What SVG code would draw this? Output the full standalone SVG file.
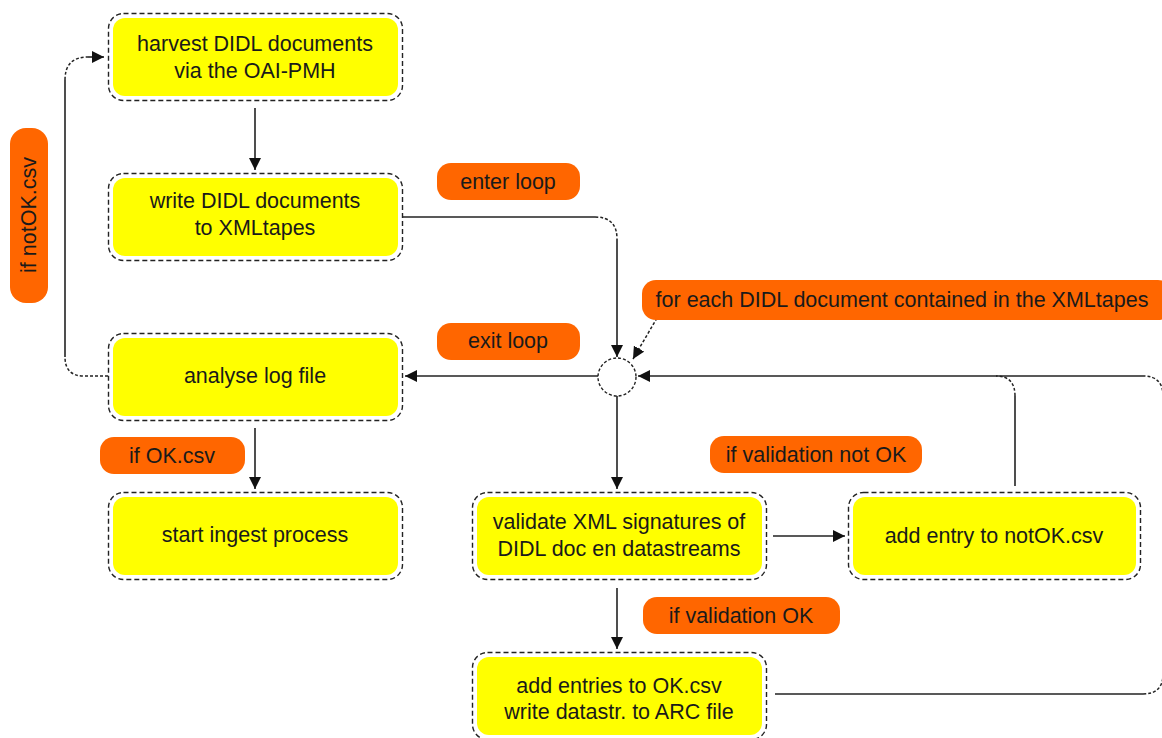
<svg xmlns="http://www.w3.org/2000/svg" width="1162" height="738" viewBox="0 0 1162 738">
<style>
.frame{fill:#fff;stroke:#222;stroke-width:1.4;stroke-dasharray:5 3}
.fill{fill:#FFFF00}
.pill{fill:#FF6600}
.t{font-family:"Liberation Sans",Arial,sans-serif;font-size:21.5px;fill:#1a1a1a;text-anchor:middle}
.ln{fill:none;stroke:#222;stroke-width:1.6}
.dl{fill:none;stroke:#222;stroke-width:1.5;stroke-dasharray:3 2}
</style>
<defs>
<marker id="ah" markerWidth="12" markerHeight="12" refX="10" refY="5" orient="auto" markerUnits="userSpaceOnUse" viewBox="0 0 10 10">
<path d="M0,0 L10,5 L0,10 z" fill="#111"/>
</marker>
</defs>
<rect width="1162" height="738" fill="#fff"/>

<g id="connectors">
<path class="ln" d="M255,108 V170" marker-end="url(#ah)"/>
<path class="ln" d="M402,217 H595"/>
<path class="dl" d="M595,217 Q617,217 617,239"/>
<path class="ln" d="M617,239 V357" marker-end="url(#ah)"/>
<path class="dl" d="M657,318 L633,359" marker-end="url(#ah)"/>
<path class="ln" d="M598,376 H405" marker-end="url(#ah)"/>
<path class="dl" d="M108,376 H84 Q65,376 65,357"/>
<path class="ln" d="M65,357 V80"/>
<path class="dl" d="M65,80 Q65,57 88,57"/>
<path class="ln" d="M88,57 H104" marker-end="url(#ah)"/>
<path class="ln" d="M255,428 V489" marker-end="url(#ah)"/>
<path class="ln" d="M617,395 V489" marker-end="url(#ah)"/>
<path class="ln" d="M617,588 V649" marker-end="url(#ah)"/>
<path class="ln" d="M773,536 H845" marker-end="url(#ah)"/>
<path class="ln" d="M1015,486 V396"/>
<path class="dl" d="M1015,396 Q1015,376 996,376"/>
<path class="ln" d="M1143,376 H638" marker-end="url(#ah)"/>
<path class="ln" d="M775,694 H1143"/>
<path class="dl" d="M1143,694 Q1163,694 1163,674"/>
<path class="ln" d="M1163,674 V396"/>
<path class="dl" d="M1163,396 Q1163,376 1143,376"/>
</g>

<g id="loop">
<circle cx="617" cy="377" r="19" fill="#fff" stroke="#222" stroke-width="1.4" stroke-dasharray="3 2"/>
</g>

<g id="harvest">
<rect class="frame" x="108.5" y="13.5" width="294" height="87" rx="15"/>
<rect class="fill" x="113" y="18" width="285" height="78" rx="12"/>
<text class="t" x="255" y="51">harvest DIDL documents</text>
<text class="t" x="255" y="78">via the OAI-PMH</text>
</g>
<g id="write">
<rect class="frame" x="108.5" y="173.5" width="294" height="87" rx="15"/>
<rect class="fill" x="113" y="178" width="285" height="78" rx="12"/>
<text class="t" x="255" y="208">write DIDL documents</text>
<text class="t" x="255" y="235">to XMLtapes</text>
</g>
<g id="analyse">
<rect class="frame" x="108.5" y="333.5" width="294" height="87" rx="15"/>
<rect class="fill" x="113" y="338" width="285" height="78" rx="12"/>
<text class="t" x="255" y="383">analyse log file</text>
</g>
<g id="start">
<rect class="frame" x="108.5" y="492.5" width="294" height="87" rx="15"/>
<rect class="fill" x="113" y="497" width="285" height="78" rx="12"/>
<text class="t" x="255" y="542">start ingest process</text>
</g>
<g id="validate">
<rect class="frame" x="472.5" y="492.5" width="294" height="87" rx="15"/>
<rect class="fill" x="477" y="497" width="285" height="78" rx="12"/>
<text class="t" x="619" y="529">validate XML signatures of</text>
<text class="t" x="619" y="556">DIDL doc en datastreams</text>
</g>
<g id="notok">
<rect class="frame" x="848.5" y="492.5" width="292" height="87" rx="15"/>
<rect class="fill" x="853" y="497" width="283" height="78" rx="12"/>
<text class="t" x="994" y="543">add entry to notOK.csv</text>
</g>
<g id="addentries">
<rect class="frame" x="472.5" y="652.5" width="294" height="87" rx="15"/>
<rect class="fill" x="477" y="657" width="285" height="78" rx="12"/>
<text class="t" x="619" y="693">add entries to OK.csv</text>
<text class="t" x="619" y="719">write datastr. to ARC file</text>
</g>

<g id="lbl-enter">
<rect class="pill" x="437" y="163" width="143" height="37" rx="14"/>
<text class="t" x="508" y="189">enter loop</text>
</g>
<g id="lbl-exit">
<rect class="pill" x="437" y="323" width="143" height="37" rx="14"/>
<text class="t" x="508" y="348">exit loop</text>
</g>
<g id="lbl-foreach">
<rect class="pill" x="642" y="280" width="530" height="40" rx="14"/>
<text class="t" x="902" y="307">for each DIDL document contained in the XMLtapes</text>
</g>
<g id="lbl-ok">
<rect class="pill" x="100" y="437" width="145" height="37" rx="14"/>
<text class="t" x="172" y="463">if OK.csv</text>
</g>
<g id="lbl-notvalid">
<rect class="pill" x="710" y="436" width="212" height="37" rx="14"/>
<text class="t" x="816" y="462">if validation not OK</text>
</g>
<g id="lbl-valid">
<rect class="pill" x="643" y="597" width="197" height="37" rx="14"/>
<text class="t" x="741" y="623">if validation OK</text>
</g>
<g id="lbl-notokcsv">
<rect class="pill" x="10" y="128" width="38" height="175" rx="16"/>
<text class="t" transform="translate(36,215) rotate(-90)" x="0" y="0">if notOK.csv</text>
</g>
</svg>
